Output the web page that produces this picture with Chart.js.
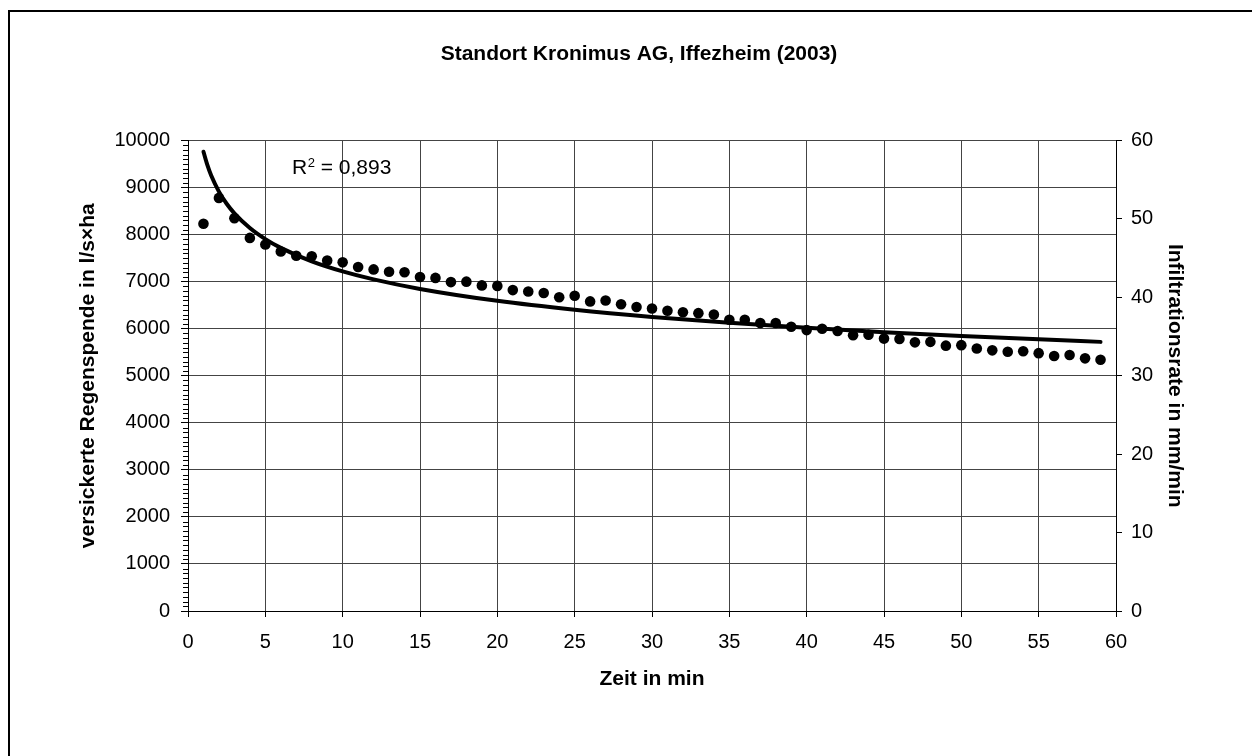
<!DOCTYPE html>
<html>
<head>
<meta charset="utf-8">
<script src="https://cdn.jsdelivr.net/npm/chart.js@4/dist/chart.umd.min.js"></script>
<style>
html,body{margin:0;padding:0;background:#fff;overflow:hidden}
#wrap{width:1252px;height:756px;position:relative}
</style>
</head>
<body>
<div id="wrap"><canvas id="c" width="1252" height="756"></canvas></div>
<script>
// ---- data ----
const timeMin = [1,2,3,4,5,6,7,8,9,10,11,12,13,14,15,16,17,18,19,20,21,22,23,24,25,26,27,28,29,30,
  31,32,33,34,35,36,37,38,39,40,41,42,43,44,45,46,47,48,49,50,51,52,53,54,55,56,57,58,59];
const regenspende = [8230,8780,8350,7930,7790,7640,7550,7540,7450,7410,7310,7260,7210,7200,7100,7080,6990,7000,6920,6910,
  6820,6790,6760,6670,6700,6580,6600,6520,6460,6430,6380,6350,6330,6300,6190,6190,6120,6120,6040,5970,
  6000,5950,5860,5870,5790,5780,5710,5720,5640,5650,5580,5540,5510,5520,5480,5420,5440,5370,5340];
// trend line (power trend) read at selected times
const trendX = [1,1.25,1.5,2,2.5,3,4,5,6,8,10,12,15,20,25,30,35,40,45,50,55,59];
const trendY = [9760,9480,9255,8914,8656,8453,8140,7905,7718,7432,7218,7048,6845,6592,6402,6251,6127,6020,5927,5846,5774,5720];
const chartTitle = 'Standort Kronimus AG, Iffezheim (2003)';
const xTitle = 'Zeit in min';
const yTitle = 'versickerte Regenspende in l/s\u00D7ha';
const y2Title = 'Infiltrationsrate in mm/min';
const rSquaredText = '0,893';
const xRange = [0, 60], xStep = 5;
const yRange = [0, 10000], yStep = 1000, yMinorStep = 100;
const y2Range = [0, 60], y2Step = 10;

const FONT = "'Liberation Sans', Arial, sans-serif";

const scatterPts = timeMin.map((t, i) => ({x: t, y: regenspende[i]}));
const trendPts = trendX.map((t, i) => ({x: t, y: trendY[i]}));

const framePlugin = {
  id: 'frame',
  beforeDraw(chart) {
    const ctx = chart.ctx;
    ctx.save();
    ctx.fillStyle = '#fff';
    ctx.fillRect(0, 0, chart.width, chart.height);
    ctx.fillStyle = '#000';
    ctx.fillRect(8, 10, 2, chart.height - 10);
    ctx.fillRect(8, 10, chart.width - 8, 2);
    ctx.restore();
  }
};

const minorTicksPlugin = {
  id: 'minorTicks',
  afterDraw(chart) {
    const s = chart.scales.y;
    const ctx = chart.ctx;
    ctx.save();
    ctx.strokeStyle = '#000';
    ctx.lineWidth = 1;
    for (let v = s.min; v <= s.max; v += yMinorStep) {
      if (v % yStep === 0) continue;
      const py = Math.round(s.getPixelForValue(v)) + 0.5;
      ctx.beginPath();
      ctx.moveTo(s.right - 5, py);
      ctx.lineTo(s.right, py);
      ctx.stroke();
    }
    ctx.restore();
  }
};

const r2Plugin = {
  id: 'r2',
  afterDraw(chart) {
    const ctx = chart.ctx;
    const a = chart.chartArea;
    let x = a.left + 104;
    const base = a.top + 33;
    ctx.save();
    ctx.fillStyle = '#000';
    ctx.textBaseline = 'alphabetic';
    ctx.textAlign = 'left';
    ctx.font = '21px ' + FONT;
    ctx.fillText('R', x, base);
    x += ctx.measureText('R').width;
    ctx.font = '13px ' + FONT;
    ctx.fillText('2', x + 0.5, base - 7);
    x += ctx.measureText('2').width + 0.5;
    ctx.font = '21px ' + FONT;
    ctx.fillText(' = ' + rSquaredText, x, base);
    ctx.restore();
  }
};

const tickFont = {family: FONT, size: 20};
const titleFont = {family: FONT, size: 21, weight: 'bold'};

new Chart(document.getElementById('c'), {
  type: 'scatter',
  data: {
    datasets: [
      {
        label: 'Trend',
        data: trendPts,
        showLine: true,
        borderColor: '#000',
        borderWidth: 4,
        borderCapStyle: 'round',
        pointRadius: 0,
        fill: false,
        cubicInterpolationMode: 'monotone',
        yAxisID: 'y',
        order: 0
      },
      {
        label: 'Messwerte',
        data: scatterPts,
        showLine: false,
        pointRadius: 5.3,
        pointStyle: 'circle',
        pointBackgroundColor: '#000',
        pointBorderColor: '#000',
        pointBorderWidth: 0,
        yAxisID: 'y',
        order: 1
      }
    ]
  },
  options: {
    responsive: false,
    animation: false,
    devicePixelRatio: 1,
    layout: {padding: {left: 26, right: 0, top: 0, bottom: 0}},
    plugins: {
      legend: {display: false},
      tooltip: {enabled: false},
      title: {
        display: true,
        text: chartTitle,
        color: '#000',
        font: titleFont,
        padding: {top: 41.4, bottom: 73.9}
      }
    },
    scales: {
      x: {
        type: 'linear',
        position: 'bottom',
        min: xRange[0], max: xRange[1],
        ticks: {stepSize: xStep, color: '#000', font: tickFont, padding: 13, maxRotation: 0, autoSkip: false},
        grid: {color: '#444', lineWidth: 1, tickLength: 6, tickColor: '#000'},
        border: {color: '#000', width: 1},
        title: {display: true, text: xTitle, color: '#000', font: titleFont, padding: {top: 0, bottom: 64}},
        afterFit(s) { s.height = 145; }
      },
      y: {
        type: 'linear',
        position: 'left',
        min: yRange[0], max: yRange[1],
        ticks: {stepSize: yStep, color: '#000', font: tickFont, padding: 11, callback: v => String(v)},
        grid: {color: '#444', lineWidth: 1, tickLength: 7, tickColor: '#000'},
        border: {color: '#000', width: 1},
        title: {display: true, text: yTitle, color: '#000', font: titleFont, padding: {top: 49.4, bottom: 0}},
        afterFit(s) { s.width = 162; }
      },
      y2: {
        type: 'linear',
        position: 'right',
        min: y2Range[0], max: y2Range[1],
        ticks: {stepSize: y2Step, color: '#000', font: tickFont, padding: 9, callback: v => String(v)},
        grid: {drawOnChartArea: false, tickLength: 6, tickColor: '#000', color: '#000'},
        border: {color: '#000', width: 1},
        title: {display: true, text: y2Title, color: '#000', font: titleFont, padding: {top: 64.4, bottom: 0}},
        afterFit(s) { s.width = 136; }
      }
    }
  },
  plugins: [framePlugin, minorTicksPlugin, r2Plugin]
});
</script>
</body>
</html>
